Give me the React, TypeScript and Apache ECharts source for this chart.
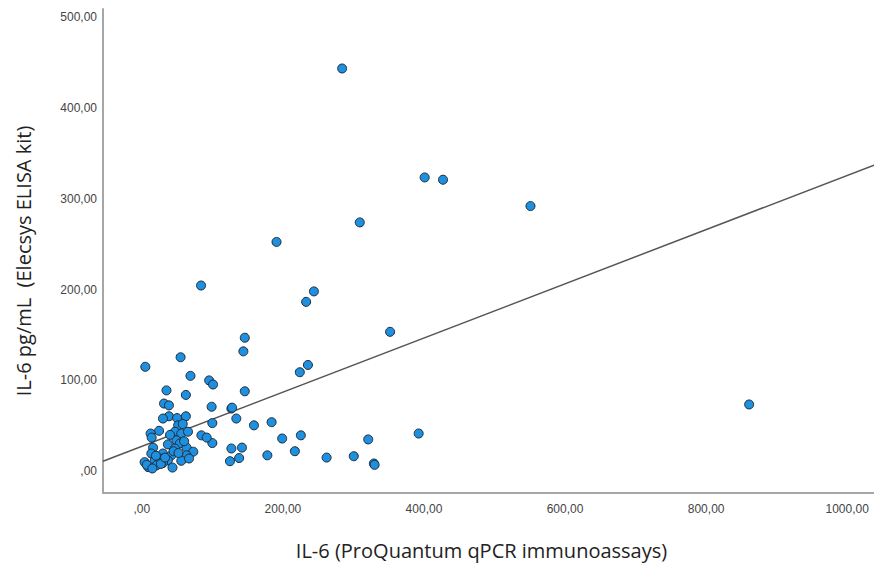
import React, { useEffect, useRef } from "react";
import * as echarts from "echarts";

// IL-6 (ProQuantum qPCR immunoassays) values
const qpcrValues = [
  284, 401, 427, 551, 309, 191, 84, 244, 233, 352,
  146, 144, 235.5, 224, 55, 69, 95.5, 101, 146, 321,
  392.5, 861, 99, 127, 128, 100, 134, 159, 184, 100,
  127, 142, 125, 138, 178, 199, 225.5, 217, 262, 300.5,
  329, 330, 5, 35, 62.5, 31.5, 38.5, 38.5, 30, 50,
  62.5, 51.5, 24.5, 12.5, 47, 56, 65.5, 84.5, 92, 49,
  37, 54, 16, 47, 63.5, 13.5, 30, 42, 73, 63.5,
  4, 18.5, 25.5, 37, 56, 67, 9, 21, 43.5, 30,
  14, 20, 27, 33, 45, 52, 7, 15, 60, 40, 58
];

// IL-6 pg/mL (Elecsys ELISA kit) values
const elisaValues = [
  443.5, 323.5, 321, 292, 274, 252.5, 204.5, 198, 186.5, 153.5,
  147, 132, 117, 109, 125.5, 105, 100, 95.5, 88, 35,
  41.5, 73.5, 71, 69, 70, 53, 58, 50.5, 54, 31,
  25, 26, 11, 14.5, 17.5, 36, 39.5, 22, 15, 16.5,
  8.5, 7, 115, 89, 84, 74.5, 72.5, 60.5, 58, 58.5,
  60.5, 50.5, 44.5, 41.5, 43.5, 41.5, 43.5, 39.5, 37, 34,
  29.5, 30.5, 26, 25, 26, 19.5, 19.5, 17.5, 21.5, 17.5,
  10, 12, 14, 12, 11.5, 14, 4.5, 6.5, 4, 9,
  37, 17, 8, 15, 22, 20, 7, 3, 33, 40, 52
];

// Fit line end points (x, y)
const fitLineX = [-55, 1038];
const fitLineY = [11, 337];

const xTicks = [0, 200, 400, 600, 800, 1000];
const yTicks = [0, 100, 200, 300, 400, 500];

const xAxisTitle = "IL-6 (ProQuantum qPCR immunoassays)";
const yAxisTitle = "IL-6 pg/mL  (Elecsys ELISA kit)";

const fmt = (v: number) => {
  const s = v.toFixed(2).replace(".", ",");
  return s.startsWith("0,") ? s.slice(1) : s;
};

export default function App() {
  const ref = useRef<HTMLDivElement>(null);

  useEffect(() => {
    if (!ref.current) return;
    const chart = echarts.init(ref.current, undefined, { renderer: "svg" });
    const points = qpcrValues.map((x, i) => [x, elisaValues[i]]);
    const fit = fitLineX.map((x, i) => [x, fitLineY[i]]);
    const axisLineStyle = { color: "#a6a6a6", width: 2 };
    const tickFont = { color: "#444", fontSize: 12, fontFamily: "Liberation Sans" };
    const titleFont = { color: "#222", fontSize: 20, fontFamily: "Open Sans" };

    chart.setOption({
      animation: false,
      backgroundColor: "#ffffff",
      grid: { left: 103, right: 0, top: 9, bottom: 76 },
      xAxis: {
        type: "value",
        min: -55,
        max: 1038,
        name: xAxisTitle,
        nameLocation: "middle",
        nameGap: 47,
        nameTextStyle: { ...titleFont, padding: [0, 14, 0, 0] },
        axisLine: { show: true, onZero: false, lineStyle: axisLineStyle },
        axisTick: { show: false },
        splitLine: { show: false },
        axisLabel: { ...tickFont, margin: 10, customValues: xTicks, formatter: fmt },
      },
      yAxis: {
        type: "value",
        min: -24,
        max: 509,
        name: yAxisTitle,
        nameLocation: "middle",
        nameGap: 70,
        nameRotate: 90,
        nameTextStyle: { ...titleFont, padding: [0, 20, 0, 0] },
        axisLine: { show: true, onZero: false, lineStyle: axisLineStyle },
        axisTick: { show: false },
        splitLine: { show: false },
        axisLabel: { ...tickFont, margin: 6, customValues: yTicks, formatter: fmt },
      },
      series: [
        {
          type: "line",
          data: fit,
          symbol: "none",
          lineStyle: { color: "#555555", width: 1.5 },
          silent: true,
          z: 1,
        },
        {
          type: "scatter",
          data: points,
          symbol: "circle",
          symbolSize: 9,
          itemStyle: { color: "#1f8fe0", borderColor: "#1c2a38", borderWidth: 1, opacity: 1 },
          z: 2,
        },
      ],
    });
    return () => chart.dispose();
  }, []);

  return (
    <div
      ref={ref}
      style={{ position: "absolute", left: 0, top: 0, width: 874, height: 569 }}
    />
  );
}
